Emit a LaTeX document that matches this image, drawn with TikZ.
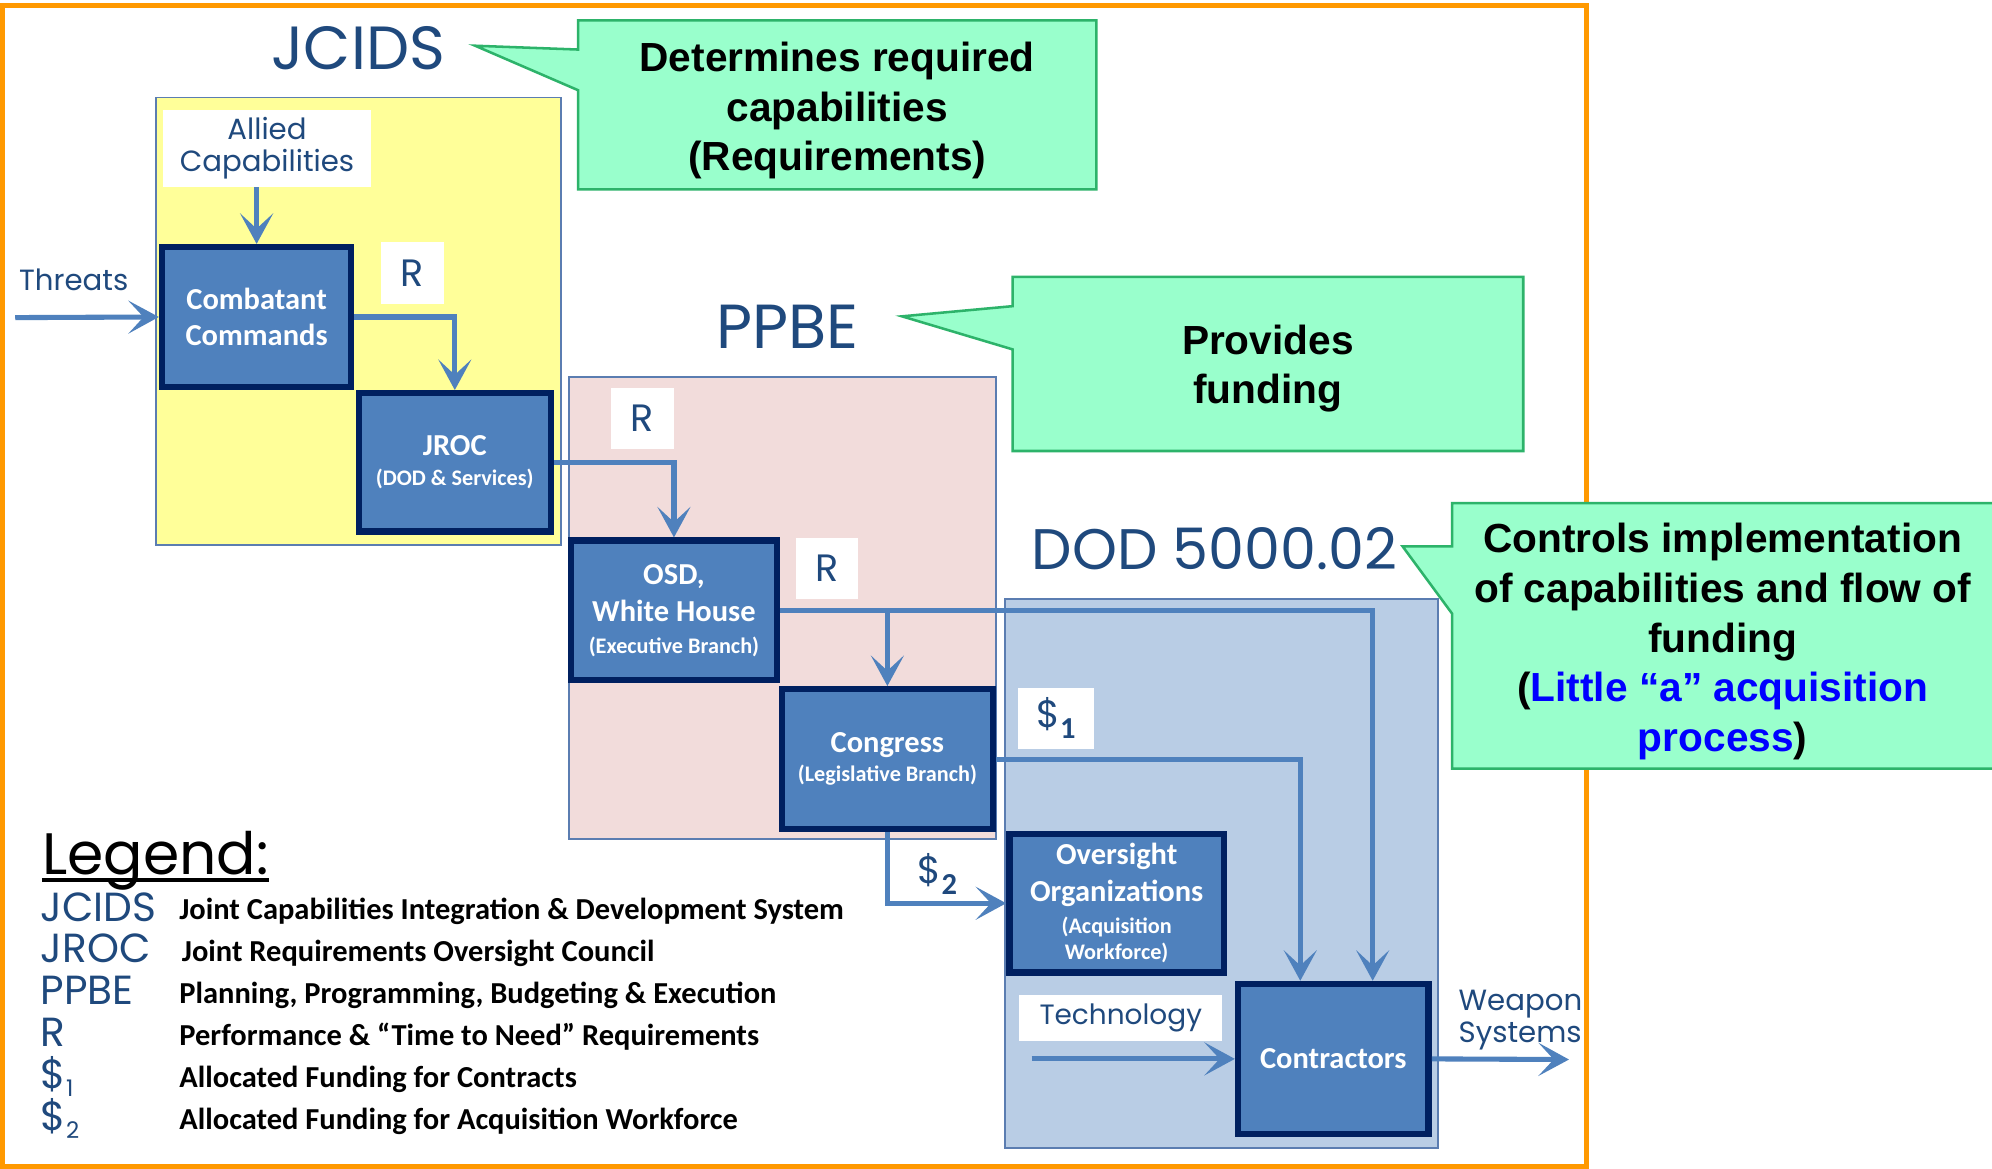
\documentclass[tikz,border=0pt]{standalone}
\usepackage{fontspec}
\usetikzlibrary{arrows.meta}
\newfontfamily\thinf{Poppins}
\newfontfamily\boxf{Carlito}
\newfontfamily\callf{Liberation Sans}
\definecolor{arrowblue}{HTML}{4F81BD}
\definecolor{navy}{HTML}{002060}
\definecolor{headblue}{HTML}{1F497D}
\definecolor{jyellow}{HTML}{FFFF99}
\definecolor{ppink}{HTML}{F2DCDB}
\definecolor{dblue}{HTML}{B9CDE5}
\definecolor{cgreen}{HTML}{99FFCC}
\definecolor{cborder}{HTML}{2DB36A}
\definecolor{orangeb}{HTML}{FF9900}
\definecolor{grpborder}{HTML}{5B7DB1}
\definecolor{linkblue}{HTML}{0000FF}
\newcommand{\smalltxt}{\fontsize{17.5}{20}\selectfont}
\begin{document}
\begin{tikzpicture}[x=1pt,y=-1pt,
  proc/.style={draw=navy, fill=arrowblue, line width=5pt, text=white,
    font=\boxf\bfseries\fontsize{24}{29}\selectfont, align=center,
    anchor=north west, inner sep=0pt},
  grp/.style={draw=grpborder, line width=1.5pt, anchor=north west, inner sep=0pt},
  conn/.style={draw=arrowblue, line width=4pt,
    -{Stealth[length=24pt,width=26pt,inset=12pt]}},
  lbl/.style={fill=white, inner sep=0pt, anchor=north west, text=headblue,
    font=\thinf\fontsize{30}{30}\selectfont, align=center},
  head/.style={text=headblue, font=\thinf\fontsize{45}{45}\selectfont, inner sep=0pt},
  plain/.style={text=headblue, font=\thinf\fontsize{23}{25}\selectfont, inner sep=0pt, align=center},
  callout/.style={fill=cgreen, draw=cborder, line width=2pt},
  calltext/.style={font=\callf\bfseries\fontsize{32}{39}\selectfont, align=center, inner sep=0pt},
  legabbr/.style={text=headblue, font=\thinf\fontsize{32}{32}\selectfont, anchor=base west, inner sep=0pt},
  legdesc/.style={font=\boxf\bfseries\fontsize{24}{28}\selectfont, anchor=base west, inner sep=0pt}
]
\useasboundingbox (0,0) rectangle (1568,920);
\clip (0,0) rectangle (1568,920);
\fill[white] (0,0) rectangle (1568,920);

% orange frame
\draw[orangeb, line width=4pt] (2,4) rectangle (1249,918);

% group areas
\node[grp, fill=jyellow, minimum width=319, minimum height=352] (gJ) at (122,76) {};
\node[grp, fill=ppink, minimum width=336, minimum height=364] (gP) at (447,296) {};
\node[grp, fill=dblue, minimum width=341, minimum height=432] (gD) at (790,471) {};

% headings
\node[head, font=\thinf\fontsize{48}{48}\selectfont] (hJ) at (282,38) {JCIDS};
\node[head, font=\thinf\fontsize{49}{49}\selectfont] (hP) at (620,257) {PPBE};
\node[head] (hD) at (956,432) {DOD 5000.02};

% callouts
\draw[callout] (455,16) -- (863,16) -- (863,149) -- (455,149) -- (455,71) -- (374,36) -- (455,39) -- cycle;
\draw[callout] (797,218) -- (1199,218) -- (1199,355) -- (797,355) -- (797,275) -- (710,249) -- (797,241) -- cycle;
\draw[callout] (1143,396) -- (1580,396) -- (1580,605) -- (1143,605) -- (1143,483) -- (1104,430) -- (1143,430) -- cycle;
\node[calltext] (t1) at (659,87) {Determines required\\capabilities\\(Requirements)};
\node[calltext] (t2) at (998,290) {Provides\\funding};
\node[calltext] (t3) at (1356,505) {Controls implementation\\of capabilities and flow of\\funding\\(\textcolor{linkblue}{Little “a” acquisition}\\\textcolor{linkblue}{process})};

% white labels
\node[lbl, font=\thinf\fontsize{23}{25}\selectfont, minimum width=164, minimum height=61] (allied) at (128,86) {Allied\\Capabilities};
\node[lbl, minimum width=49, minimum height=49] (r1) at (300,190) {R};
\node[lbl, minimum width=49, minimum height=48] (r2) at (481,305) {R};
\node[lbl, minimum width=49, minimum height=48] (r3) at (626,423) {R};
\node[lbl, minimum width=60, minimum height=48] (d1) at (801,541) {\$\raisebox{-9pt}{\boxf\bfseries\fontsize{24}{24}\selectfont 1}};
\node[lbl, font=\thinf\fontsize{22}{25}\selectfont, minimum width=160, minimum height=36] (tech) at (802,783) {Technology};
\node[plain, text=headblue, font=\thinf\fontsize{30}{30}\selectfont] (d2) at (738,688) {\$\raisebox{-9pt}{\boxf\bfseries\fontsize{24}{24}\selectfont 2}};

\node[plain] (threats) at (58,220) {Threats};
\node[plain, anchor=west, align=left] (weapon) at (1148,803) {Weapon\\Systems};

% process boxes
\node[proc, minimum width=149, minimum height=110] (cc) at (125,192) {Combatant\\Commands};
\node[proc, minimum width=151, minimum height=109] (jroc) at (280,307) {JROC\\[-5pt]{\smalltxt (DOD \& Services)}};
\node[proc, minimum width=162, minimum height=110] (osd) at (447,423) {OSD,\\White House\\[-4pt]{\smalltxt (Executive Branch)}};
\node[proc, minimum width=166, minimum height=110] (cong) at (613,540) {Congress\\[-6pt]{\smalltxt (Legislative Branch)}};
\node[proc, minimum width=169, minimum height=109] (over) at (792,654) {Oversight\\Organizations\\[-4pt]{\smalltxt (Acquisition}\\[-8pt]{\smalltxt Workforce)}};
\node[proc, minimum width=150, minimum height=118] (contr) at (972,772) {Contractors};

% connectors
\coordinate (thr) at (12,250);
\coordinate (techstart) at (812,833.5);
\coordinate (wend) at (1235,834);
\draw[conn] (thr) -- (cc.west);
\draw[conn] (allied.south -| cc.north) -- (cc.north);
\draw[conn] (cc.east) -| (jroc.north);
\draw[conn] (jroc.east) -| (osd.north);
\draw[conn] (osd.east) -| ([xshift=31pt]contr.north);
\draw[conn] (osd.east -| cong.north) -- (cong.north);
\draw[conn] (cong.east) -| ([xshift=-26pt]contr.north);
\draw[conn] (cong.south) |- (over.west);
\draw[conn] (techstart) -- (techstart -| contr.west);
\draw[conn] (contr.east) -- (wend);

% legend
\node[anchor=base west, inner sep=0pt, font=\thinf\fontsize{46}{46}\selectfont] (leg) at (33,688) {Legend:};
\draw[line width=3pt] ([yshift=-5pt]leg.base west) -- ([yshift=-5pt]leg.base east);
\node[legabbr] (a1) at (32,725) {JCIDS};
\node[legabbr] (a2) at (32,758) {JROC};
\node[legabbr] (a3) at (32,791) {PPBE};
\node[legabbr] (a4) at (32,824) {R};
\node[legabbr] (a5) at (32,857) {\$\raisebox{-6pt}{\fontsize{18}{18}\selectfont 1}};
\node[legabbr] (a6) at (32,890) {\$\raisebox{-6pt}{\fontsize{18}{18}\selectfont 2}};
\node[legdesc] (l1) at (141,724) {Joint Capabilities Integration \& Development System};
\node[legdesc] (l2) at (143,757) {Joint Requirements Oversight Council};
\node[legdesc] (l3) at (141,790) {Planning, Programming, Budgeting \& Execution};
\node[legdesc] (l4) at (141,823) {Performance \& “Time to Need” Requirements};
\node[legdesc] (l5) at (141,856) {Allocated Funding for Contracts};
\node[legdesc] (l6) at (141,889) {Allocated Funding for Acquisition Workforce};
\end{tikzpicture}
\end{document}
